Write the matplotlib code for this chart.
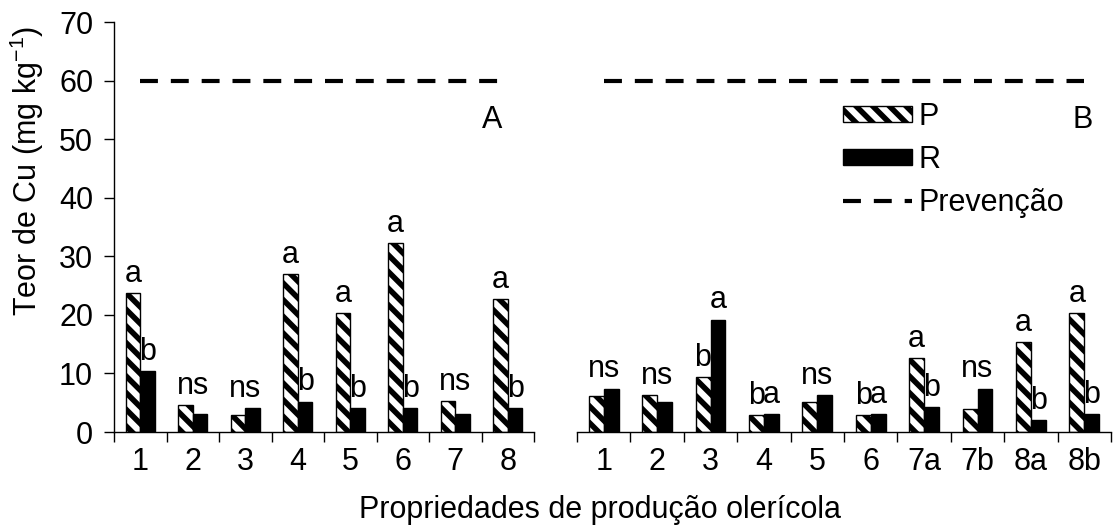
import numpy as np
import matplotlib
matplotlib.use("Agg")
import matplotlib.pyplot as plt
from matplotlib.patches import Patch
from matplotlib.lines import Line2D

plt.rcParams['font.family'] = ['Liberation Sans', 'DejaVu Sans']
plt.rcParams['mathtext.default'] = 'regular'
plt.rcParams['hatch.linewidth'] = 4.0
plt.rcParams['hatch.color'] = 'black'

# data
cats_a = ['1', '2', '3', '4', '5', '6', '7', '8']
p_a = [23.7, 4.6, 2.9, 26.9, 20.3, 32.2, 5.3, 22.7]
r_a = [10.4, 3.1, 4.1, 5.2, 4.1, 4.1, 3.1, 4.1]
lab_a = [('a', 'b'), 'ns', 'ns', ('a', 'b'), ('a', 'b'), ('a', 'b'), 'ns', ('a', 'b')]

cats_b = ['1', '2', '3', '4', '5', '6', '7a', '7b', '8a', '8b']
p_b = [6.2, 6.3, 9.4, 2.9, 5.1, 2.9, 12.6, 4.0, 15.4, 20.3]
r_b = [7.4, 5.2, 19.2, 3.1, 6.3, 3.1, 4.2, 7.4, 2.0, 3.0]
lab_b = ['ns', 'ns', ('b', 'a'), ('b', 'a'), 'ns', ('b', 'a'), ('a', 'b'), 'ns', ('a', 'b'), ('a', 'b')]

prevencao = 60

W, H = 1117, 527
fig = plt.figure(figsize=(W / 100, H / 100), dpi=100)
y0, y1 = 432, 22
ax_a = fig.add_axes([114 / W, (H - y0) / H, (534 - 114) / W, (y0 - y1) / H])
ax_b = fig.add_axes([577 / W, (H - y0) / H, (1111 - 577) / W, (y0 - y1) / H])

bw = 0.28
fs = 22


def draw(ax, cats, p, r, labs, tag, tag_x):
    x = np.arange(len(cats))
    ax.bar(x - bw / 2, p, bw, color='white', edgecolor='black', hatch='\\\\', linewidth=1)
    ax.bar(x + bw / 2, r, bw, color='black', edgecolor='black', linewidth=1)
    ax.plot(x, [prevencao] * len(x), color='black', lw=3, dashes=(4.3, 3.1))
    for i, lab in enumerate(labs):
        if isinstance(lab, tuple):
            ax.annotate(lab[0], (x[i] - bw / 2, p[i]), xytext=(0, 3), textcoords='offset points',
                        ha='center', va='bottom', fontsize=fs)
            ax.annotate(lab[1], (x[i] + bw / 2, r[i]), xytext=(0, 3), textcoords='offset points',
                        ha='center', va='bottom', fontsize=fs)
        else:
            ax.annotate(lab, (x[i], max(p[i], r[i])), xytext=(0, 3), textcoords='offset points',
                        ha='center', va='bottom', fontsize=fs)
    ax.set_xlim(-0.5, len(cats) - 0.5)
    ax.set_ylim(0, 70)
    ax.set_xticks(x)
    ax.set_xticklabels(cats, fontsize=fs)
    ax.set_xticks(np.arange(len(cats) + 1) - 0.5, minor=True)
    ax.tick_params(axis='x', which='major', length=0, pad=11)
    ax.tick_params(axis='x', which='minor', length=7, width=1, direction='out')
    for s in ['top', 'right']:
        ax.spines[s].set_visible(False)
    ax.spines['bottom'].set_linewidth(1)
    ax.spines['left'].set_linewidth(1)
    ax.text(tag_x, 53.3, tag, fontsize=fs, ha='center', va='center')


draw(ax_a, cats_a, p_a, r_a, lab_a, 'A', 6.7)
draw(ax_b, cats_b, p_b, r_b, lab_b, 'B', 8.96)

ax_a.set_yticks(np.arange(0, 71, 10))
ax_a.tick_params(axis='y', length=7, width=1, labelsize=fs, pad=8)
ax_b.spines['left'].set_visible(False)
ax_b.set_yticks([])

fig.text(27 / W, 1 - 171 / H, 'Teor de Cu (mg kg$^{-1}$)', rotation=90,
         ha='center', va='center', fontsize=fs)
fig.text(600 / W, 1 - 510 / H, 'Propriedades de produção olerícola',
         ha='center', va='center', fontsize=fs)

handles = [Patch(facecolor='white', edgecolor='black', hatch='\\\\', linewidth=1),
           Patch(facecolor='black', edgecolor='black'),
           Line2D([], [], color='black', lw=3, dashes=(4.3, 3.1))]
fig.legend(handles, ['P', 'R', 'Prevenção'], loc='upper left',
           bbox_to_anchor=(843 / W, 1 - 102 / H), frameon=False, fontsize=fs,
           handlelength=2.26, handleheight=0.4, handletextpad=0.2,
           labelspacing=0.42, borderpad=0, borderaxespad=0)

fig.savefig('out.png', dpi=100)
